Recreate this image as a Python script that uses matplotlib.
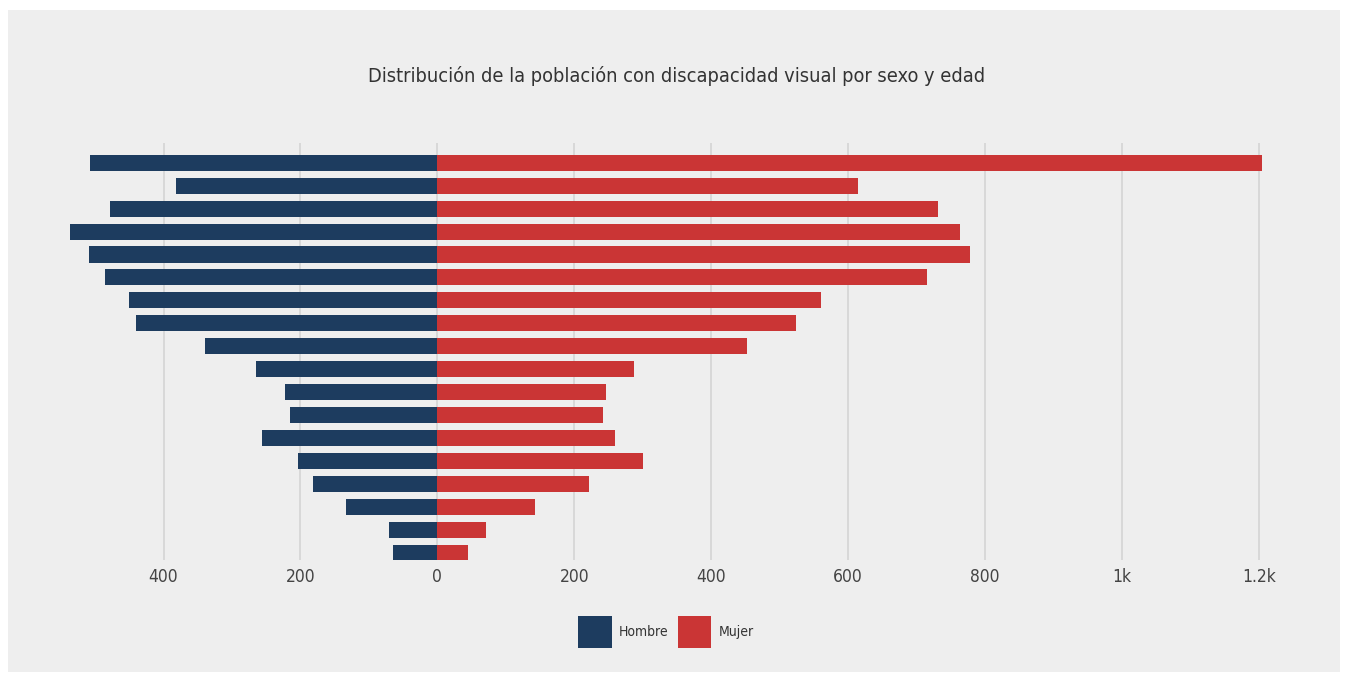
# piramide de poblacion con discapacidad visual
import matplotlib.pyplot as plt
from matplotlib.patches import Rectangle, Patch
from matplotlib.ticker import FuncFormatter

edades = ['0-4', '5-9', '10-14', '15-19', '20-24', '25-29', '30-34', '35-39', '40-44',
          '45-49', '50-54', '55-59', '60-64', '65-69', '70-74', '75-79', '80-84', '85+']
hombre = [65, 70, 134, 181, 204, 256, 215, 222, 265, 339, 440, 451, 485, 509, 536, 478, 382, 508]
mujer = [45, 71, 143, 222, 301, 260, 242, 247, 287, 452, 524, 560, 716, 778, 763, 732, 614, 1205]

azul = '#1d3c5f'
rojo = '#ca3535'
fuente = ['DejaVu Sans']

W, H = 1348, 675
fig = plt.figure(figsize=(W / 100, H / 100), dpi=100, facecolor='white')
fig.patches.append(Rectangle((8 / W, 1 - 672 / H), 1332 / W, 662 / H,
                             transform=fig.transFigure, facecolor='#eeeeee',
                             edgecolor='none', zorder=-5))

# eje: 0 en x=437, 0.6845 px por unidad
x0, x1 = 60, 1290
ax = fig.add_axes([x0 / W, 1 - 560 / H, (x1 - x0) / W, (560 - 143) / H])
ax.set_facecolor('none')
ax.set_xlim((x0 - 437.3) / 0.6845, (x1 - 437.3) / 0.6845)

y = list(range(len(edades)))
ax.barh(y, [-v for v in hombre], height=0.7, color=azul, zorder=3, label='Hombre')
ax.barh(y, mujer, height=0.7, color=rojo, zorder=3, label='Mujer')
ax.set_ylim(-0.32, len(edades) - 1 + 0.86)

ax.set_xticks([-400, -200, 0, 200, 400, 600, 800, 1000, 1200])
ax.xaxis.set_major_formatter(FuncFormatter(
    lambda v, p: f'{abs(v) / 1000:g}k' if abs(v) >= 1000 else f'{abs(v):.0f}'))
ax.set_yticks([])
ax.tick_params(axis='x', length=0, pad=6, labelsize=12.5, labelcolor='#444444')
for t in ax.get_xticklabels():
    t.set_family(fuente)
    t.set_stretch('condensed')
ax.grid(axis='x', color='#d6d6d6', linewidth=1.3, zorder=1)
for s in ax.spines.values():
    s.set_visible(False)

fig.text(677 / W, 1 - 76 / H, 'Distribución de la población con discapacidad visual por sexo y edad',
         ha='center', va='center', fontsize=14.3, color='#333333', family=fuente,
         stretch='condensed')

handles = [Patch(facecolor=azul, edgecolor='none', label='Hombre'),
           Patch(facecolor=rojo, edgecolor='none', label='Mujer')]
fig.legend(handles=handles, loc='center', bbox_to_anchor=(666 / W, 1 - 632 / H), ncol=2,
           frameon=False, handlelength=2.4, handleheight=3.1, handletextpad=0.5,
           columnspacing=0.7, prop={'family': fuente, 'size': 10, 'stretch': 'condensed'},
           labelcolor='#333333')

plt.savefig('out.png', dpi=100, facecolor=fig.get_facecolor())
